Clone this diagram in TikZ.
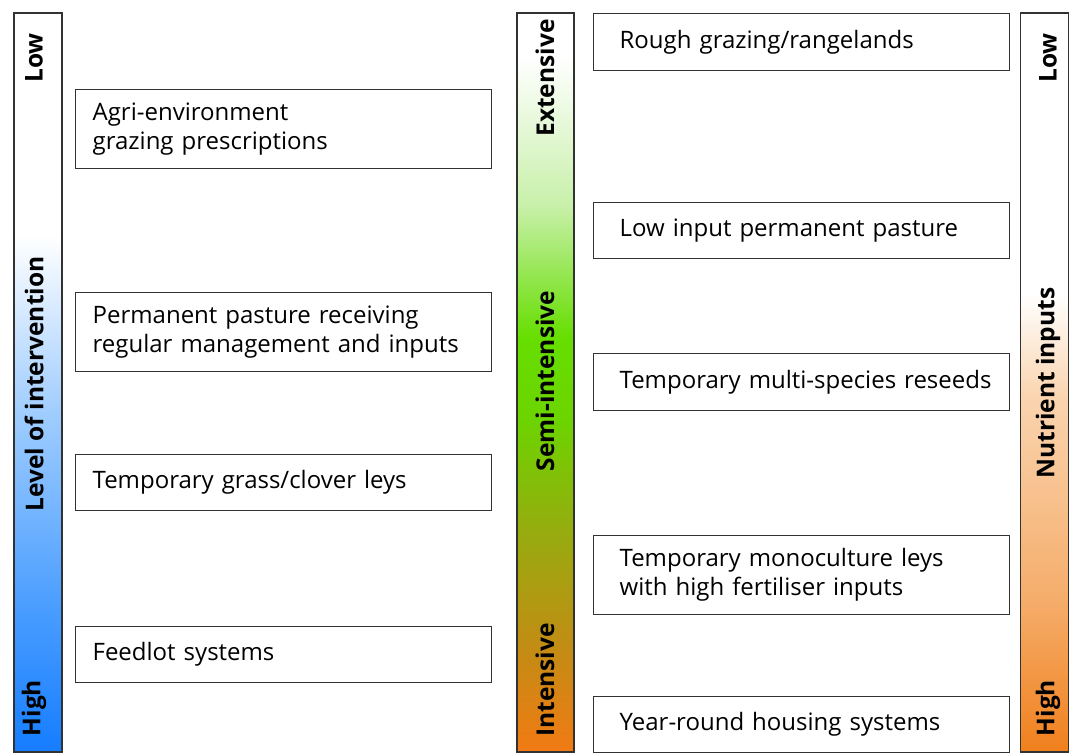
\documentclass[tikz,border=0pt]{standalone}
\usepackage{fontspec}
\setmainfont{Open Sans}
\definecolor{blueA}{RGB}{22,125,255}
\definecolor{blueB}{RGB}{75,158,255}
\definecolor{blueC}{RGB}{160,205,255}
\definecolor{orA}{RGB}{242,122,20}
\definecolor{brA}{RGB}{195,140,20}
\definecolor{olA}{RGB}{150,172,15}
\definecolor{grA}{RGB}{108,212,0}
\definecolor{grB}{RGB}{102,222,0}
\definecolor{grC}{RGB}{200,240,170}
\definecolor{orB}{RGB}{240,128,28}
\definecolor{orC}{RGB}{245,172,105}
\definecolor{orD}{RGB}{250,212,175}
\definecolor{edge}{RGB}{50,50,50}
\pgfdeclareverticalshading{blueshade}{100bp}{
  color(0bp)=(blueA); color(25bp)=(blueA); color(35bp)=(blueB); color(48bp)=(blueC); color(60bp)=(white); color(100bp)=(white)}
\pgfdeclareverticalshading{greenshade}{100bp}{
  color(0bp)=(orA); color(25bp)=(orA); color(32bp)=(brA); color(40bp)=(olA); color(47.5bp)=(grA); color(53bp)=(grB); color(62bp)=(grC); color(72bp)=(white); color(100bp)=(white)}
\pgfdeclareverticalshading{orangeshade}{100bp}{
  color(0bp)=(orB); color(25bp)=(orB); color(35bp)=(orC); color(49bp)=(orD); color(56bp)=(white); color(100bp)=(white)}
\tikzset{
  bar/.style={draw=edge, line width=1.5pt, minimum width=48pt, minimum height=739pt, inner sep=0pt},
  barlabel/.style={rotate=90, font=\fontsize{24.5}{28}\selectfont\bfseries, inner sep=0pt},
  box/.style={draw=edge, line width=1.3pt, text width=382pt, inner xsep=17pt, inner ysep=0pt, align=left, font=\fontsize{24}{29}\selectfont, anchor=north west},
  rbox/.style={box, text width=364pt, inner xsep=26pt}
}
\begin{document}
\begin{tikzpicture}[x=1pt,y=-1pt]
\useasboundingbox (0,0) rectangle (1080,754);
% bars
\node[bar, shading=blueshade] (lb) at (38,382.5) {};
\node[bar, minimum width=57pt, shading=greenshade] (mb) at (545.5,382.5) {};
\node[bar, shading=orangeshade] (rb) at (1044.5,382.5) {};
% bar labels
\node[barlabel] (l1) at (34,58) {Low};
\node[barlabel] (l2) at (34,384) {Level of intervention};
\node[barlabel] (l3) at (34,708) {High};
\node[barlabel] (m1) at (545,78) {Extensive};
\node[barlabel] (m2) at (545,381) {Semi-intensive};
\node[barlabel] (m3) at (545,680) {Intensive};
\node[barlabel] (r1) at (1048,58) {Low};
\node[barlabel] (r2) at (1048,383) {Nutrient inputs};
\node[barlabel] (r3) at (1048,708) {High};
% left boxes
\node[box, minimum height=79pt] (a1) at (75,89) {Agri-environment\\grazing prescriptions};
\node[box, minimum height=79pt] (a2) at (75,292) {Permanent pasture receiving\\regular management and inputs};
\node[box, minimum height=56pt] (a3) at (75,454) {Temporary grass/clover leys};
\node[box, minimum height=56pt] (a4) at (75,626) {Feedlot systems};
% right boxes
\node[rbox, minimum height=57pt] (b1) at (593,13) {Rough grazing/rangelands};
\node[rbox, minimum height=56pt] (b2) at (593,202) {Low input permanent pasture};
\node[rbox, minimum height=57pt] (b3) at (593,353) {\mbox{Temporary multi-species reseeds}};
\node[rbox, minimum height=79pt] (b4) at (593,535) {Temporary monoculture leys\\with high fertiliser inputs};
\node[rbox, minimum height=56pt] (b5) at (593,696) {Year-round housing systems};
\end{tikzpicture}
\end{document}
